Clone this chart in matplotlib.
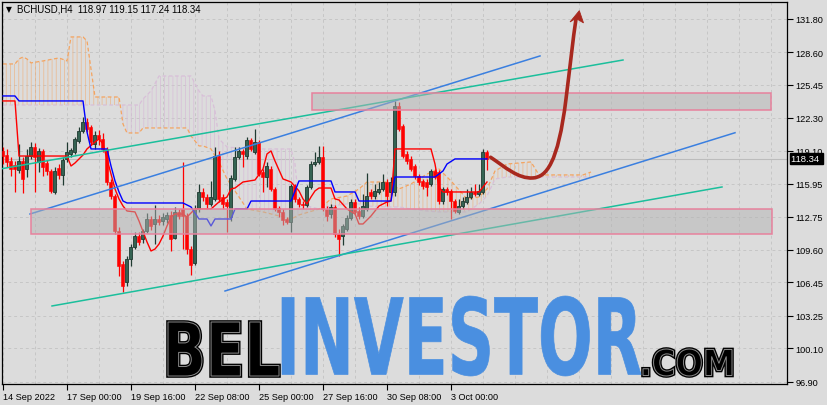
#!/usr/bin/env python
"""BCHUSD H4 chart: candles, Ichimoku lines/cloud, channel lines, zones and forecast arrow."""

import matplotlib

matplotlib.use("Agg")
import matplotlib.pyplot as plt
from matplotlib.font_manager import FontProperties
from matplotlib.patches import PathPatch, Polygon, Rectangle
from matplotlib.path import Path
from matplotlib.textpath import TextPath
from matplotlib.transforms import Affine2D, blended_transform_factory
import numpy as np

W_PX, H_PX, DPI = 828, 406, 100

# H4 candles, bar 0 = first visible bar (14 Sep 2022)
OPEN = [
    119.10, 118.71, 118.13, 117.75, 117.27, 118.13, 117.36, 118.61, 119.48, 118.04,
    119.10, 117.94, 117.17, 115.15, 117.46, 116.79, 118.33, 118.81, 119.00, 120.06,
    121.02, 121.89, 121.40, 119.77, 120.63, 120.25, 119.29, 116.11, 114.76, 111.39,
    108.22, 106.49, 108.70, 109.86, 110.91, 110.63, 111.39, 112.55, 112.07, 112.55,
    112.36, 112.55, 112.94, 110.72, 113.23, 113.51, 112.84, 109.66, 108.31, 113.51,
    115.15, 114.67, 114.00, 114.48, 118.61, 114.67, 114.19, 112.74, 116.40, 118.52,
    119.10, 118.61, 120.15, 119.00, 119.96, 117.07, 116.59, 117.36, 115.44, 113.61,
    113.23, 112.55, 112.26, 115.73, 114.48, 114.00, 113.90, 115.63, 117.84, 118.04,
    118.52, 113.51, 113.03, 113.71, 111.11, 110.91, 111.59, 112.65, 114.19, 113.32,
    112.84, 113.51, 115.15, 114.76, 115.15, 115.44, 116.11, 115.15, 115.15, 123.43,
    121.50, 118.81, 118.33, 117.65, 116.69, 116.21, 116.11, 115.92, 117.17, 117.07,
    114.28, 115.44, 115.25, 114.28, 113.23, 113.80, 114.19, 114.67, 115.15, 114.96,
    115.15, 118.97,
]
HIGH = [
    119.48, 119.29, 118.52, 118.13, 119.77, 118.52, 119.29, 119.96, 119.87, 119.39,
    119.29, 118.23, 117.36, 117.56, 117.84, 118.52, 119.96, 119.39, 120.44, 121.40,
    122.37, 122.27, 121.60, 121.02, 121.12, 120.83, 119.48, 116.40, 114.96, 111.78,
    108.51, 108.99, 110.14, 111.30, 111.30, 111.59, 113.13, 112.84, 113.90, 112.94,
    113.13, 113.23, 113.32, 113.71, 113.51, 118.04, 113.13, 109.95, 113.90, 115.92,
    115.53, 114.96, 116.21, 119.48, 119.10, 114.96, 114.48, 116.79, 119.48, 119.48,
    119.29, 120.44, 120.35, 121.21, 120.15, 117.36, 118.04, 117.65, 115.63, 113.80,
    113.51, 112.74, 115.92, 115.92, 114.67, 114.28, 115.82, 118.13, 119.00, 119.58,
    119.58, 113.80, 114.00, 113.90, 111.59, 112.07, 112.94, 114.48, 114.48, 113.71,
    114.96, 116.98, 115.44, 115.92, 116.11, 116.88, 116.40, 116.59, 123.91, 123.81,
    121.69, 119.10, 118.61, 117.84, 116.88, 116.40, 116.40, 117.36, 117.36, 117.27,
    115.63, 115.63, 115.44, 114.48, 114.48, 114.67, 115.44, 115.63, 115.92, 115.92,
    119.29, 119.15,
]
LOW = [
    117.84, 117.56, 116.69, 115.15, 116.98, 115.05, 116.59, 118.33, 115.15, 117.07,
    116.69, 116.79, 115.05, 114.96, 116.40, 115.82, 118.04, 118.52, 118.81, 119.87,
    120.83, 120.92, 119.67, 119.29, 119.67, 119.00, 115.82, 114.48, 111.11, 107.06,
    105.52, 106.10, 108.03, 109.66, 110.05, 110.24, 111.20, 111.49, 110.14, 111.97,
    111.97, 112.17, 109.47, 110.63, 112.55, 109.66, 109.18, 107.16, 108.12, 113.23,
    114.28, 113.51, 113.80, 114.28, 114.19, 113.51, 111.30, 112.36, 116.21, 118.33,
    117.56, 118.33, 119.10, 118.81, 116.69, 115.15, 115.63, 115.25, 113.32, 112.74,
    111.97, 112.07, 111.30, 114.19, 113.71, 113.51, 113.71, 115.44, 117.65, 117.84,
    113.32, 112.36, 112.65, 110.82, 108.99, 110.05, 111.39, 112.45, 113.03, 112.55,
    112.65, 113.32, 114.48, 114.48, 114.96, 115.25, 113.80, 114.86, 114.76, 121.02,
    118.42, 117.84, 117.17, 116.40, 115.82, 115.44, 114.76, 115.73, 116.40, 114.00,
    114.00, 114.86, 112.55, 113.13, 113.03, 113.51, 114.00, 114.48, 114.76, 114.76,
    114.96, 117.24,
]
CLOSE = [
    118.61, 118.04, 117.36, 117.36, 118.13, 116.40, 118.61, 119.48, 118.52, 119.10,
    117.56, 117.17, 115.25, 117.17, 116.79, 118.23, 119.00, 119.19, 120.25, 121.02,
    121.89, 121.21, 119.96, 120.63, 120.25, 119.29, 116.11, 114.76, 111.39, 108.03,
    106.10, 108.70, 109.86, 110.91, 110.34, 111.39, 112.55, 111.88, 112.55, 112.26,
    112.74, 112.94, 110.63, 113.23, 112.84, 112.84, 109.66, 108.12, 113.51, 115.15,
    114.67, 114.00, 114.67, 118.61, 114.48, 114.00, 113.80, 116.50, 118.52, 119.10,
    118.81, 120.15, 119.29, 119.96, 116.88, 116.59, 117.65, 115.44, 113.51, 113.23,
    112.45, 112.26, 115.73, 114.48, 114.00, 113.90, 115.63, 117.84, 118.04, 118.52,
    113.51, 112.84, 113.71, 111.11, 110.63, 111.88, 112.65, 114.19, 113.23, 112.84,
    113.80, 114.76, 114.76, 115.25, 115.44, 116.11, 114.76, 116.11, 123.43, 121.21,
    118.61, 118.13, 117.36, 116.69, 116.11, 115.73, 115.63, 117.17, 116.59, 114.28,
    115.44, 115.15, 114.28, 113.32, 113.80, 114.28, 114.67, 115.15, 114.96, 115.25,
    119.00, 118.34,
]

# Ichimoku lines, given as vertices (bar index, price)
TENKAN_BAR = [0, 3, 4, 10, 16, 17, 18, 20, 21, 23, 24, 25, 26, 27, 28, 29, 30, 31, 33, 34,
              36, 37, 38, 39, 40, 41, 42, 43, 45, 46, 48, 52, 54, 56, 57, 58, 60, 63, 65, 66,
              67, 68, 70, 72, 74, 75, 76, 77, 78, 79, 82, 83, 84, 86, 88, 89, 90, 92, 94, 96,
              97, 98, 107, 108, 109, 110, 119, 120, 121]
TENKAN = [123.91, 123.91, 118.61, 118.61, 118.61, 117.65, 117.94, 118.71, 119.29, 119.96,
          120.25, 119.77, 118.33, 116.88, 115.44, 114.48, 113.80, 113.32, 113.23, 112.36,
          110.34, 109.47, 109.66, 110.14, 110.91, 111.88, 112.74, 113.03, 113.03, 112.74,
          113.51, 113.51, 114.19, 114.67, 115.44, 115.53, 116.11, 116.30, 117.36, 118.81,
          119.10, 118.13, 116.40, 116.11, 115.25, 114.48, 114.00, 114.67, 115.25, 115.53,
          115.53, 114.48, 114.38, 113.51, 113.03, 112.07, 112.07, 112.84, 113.80, 114.19,
          114.28, 119.29, 119.29, 117.84, 115.63, 115.15, 115.15, 115.63, 116.11]
KIJUN_BAR = [0, 3, 4, 20, 21, 22, 26, 27, 28, 29, 30, 31, 45, 47, 49, 51, 52, 53, 57, 58,
             61, 62, 72, 74, 82, 83, 88, 89, 97, 98, 108, 110, 111, 113, 121]
KIJUN = [124.39, 124.39, 123.91, 123.91, 120.92, 119.29, 119.29, 117.65, 116.21, 115.15,
         114.28, 114.09, 114.09, 113.71, 112.55, 112.55, 111.88, 112.55, 112.55, 113.51,
         113.51, 114.28, 114.28, 116.21, 116.21, 115.15, 115.15, 114.28, 114.28, 116.59,
         116.59, 117.17, 117.84, 118.33, 118.33]
CLOUD_BAR = [0, 3, 4, 5, 6, 7, 10, 14, 16, 17, 20, 21, 22, 23, 29, 30, 31, 34, 35, 37,
             39, 46, 47, 49, 50, 52, 53, 54, 56, 61, 65, 72, 73, 74, 79, 82, 86, 89, 91, 96,
             99, 102, 106, 109, 112, 116, 119, 121, 123, 126, 132, 134, 145, 147]
SPAN_A = [127.47, 127.47, 127.95, 128.14, 127.95, 127.57, 127.76, 128.05, 127.76, 130.07,
          130.07, 129.68, 126.99, 124.29, 124.29, 121.69, 120.83, 120.83, 121.31, 121.31,
          121.31, 121.31, 120.54, 119.58, 119.58, 119.29, 118.61, 118.04, 116.40, 113.51,
          113.23, 112.55, 112.74, 112.94, 113.51, 114.48, 114.76, 115.44, 116.11, 116.11,
          115.44, 115.92, 116.88, 117.36, 116.21, 114.48, 114.67, 115.44, 117.17, 117.84,
          118.04, 116.79, 116.79, 117.07]
SPAN_B = [123.52, 123.52, 123.52, 123.52, 123.52, 123.52, 123.52, 123.52, 123.52, 123.52,
          123.52, 123.52, 123.52, 123.52, 123.52, 123.52, 123.52, 123.52, 124.10, 124.87,
          126.31, 126.31, 126.31, 124.87, 124.39, 124.39, 122.95, 120.25, 119.48, 119.29,
          119.29, 119.29, 117.84, 114.00, 113.51, 113.80, 114.00, 114.00, 113.80, 113.71,
          113.71, 113.51, 113.32, 113.23, 113.23, 113.23, 114.00, 114.76, 116.40, 116.59,
          116.59, 116.59, 116.59, 116.59]

# hand-drawn objects (bar index, price)
CHANNEL_BLUE = [((6.75, 113.03), (134.25, 128.24)), ((55.5, 105.62), (183.0, 120.85))]
CHANNEL_TEAL = [((-0.75, 117.36), (155.0, 127.85)), ((12.25, 104.18), (179.75, 115.63))]
ZONES = [(77.25, 192.0, 123.04, 124.68), (7.0, 192.25, 111.11, 113.47)]
ARROW_PATH = [(121.9, 118.49), (125.5, 117.56), (128.75, 116.40), (132.5, 116.50),
              (135.75, 116.59), (138.75, 117.84), (140.75, 124.10),
              (141.75, 127.18), (142.5, 129.88), (143.25, 131.80)]
ARROW_HEAD = [(144.08, 132.60), (141.75, 131.51), (143.25, 131.85), (145.13, 131.42)]

YTICKS = [131.80, 128.60, 125.45, 122.30, 119.10, 115.95, 112.75, 109.60, 106.45, 103.25, 100.10, 96.90]
XTICK_BARS = [0, 16, 32, 48, 64, 80, 96, 112]
XTICK_LABELS = ["14 Sep 2022", "17 Sep 00:00", "19 Sep 16:00", "22 Sep 08:00",
                "25 Sep 00:00", "27 Sep 16:00", "30 Sep 08:00", "3 Oct 00:00"]
HEADER = "BCHUSD,H4  118.97 119.15 117.24 118.34"
LAST_PRICE = 118.34

BG = "#dcdcdc"
GRID = "#c6c6c6"
BULL = "#356353"
BULL_EDGE = "#1f3a31"
BEAR = "#ff0000"
ORANGE = "#f4a460"
THISTLE = "#d8bfd8"
FONT = "Liberation Sans"


def word(fig, text, box, prop, **kw):
    """Draw a word as a path stretched into a pixel box (left, top, right, bottom)."""
    tp = TextPath((0, 0), text, size=100, prop=prop)
    ext = tp.get_extents()
    x0, y0, x1, y1 = box
    tr = (
        Affine2D()
        .translate(-ext.x0, -ext.y0)
        .scale((x1 - x0) / ext.width, (y1 - y0) / ext.height)
        .translate(x0, H_PX - y1)
        .scale(1 / W_PX, 1 / H_PX)
        + fig.transFigure
    )
    patch = PathPatch(tp, transform=tr, **kw)
    fig.add_artist(patch)
    return patch


def main() -> None:
    plt.rcParams["hatch.linewidth"] = 0.6
    fig = plt.figure(figsize=(W_PX / DPI, H_PX / DPI), dpi=DPI, facecolor=BG)
    ax = fig.add_axes([2.5 / W_PX, 21 / H_PX, 785 / W_PX, 382.5 / H_PX], facecolor=BG)
    ax.set_xlim(-0.125, 196.125)
    ax.set_ylim(96.67, 133.48)

    # grid
    for b in range(0, 193, 8):
        ax.axvline(b, color=GRID, lw=0.7, ls=(0, (3, 3)), zorder=0.5)
    for v in YTICKS:
        ax.axhline(v, color=GRID, lw=0.7, ls=(0, (3, 3)), zorder=0.5)

    # cloud
    a = np.array(SPAN_A)
    b = np.array(SPAN_B)
    ax.fill_between(CLOUD_BAR, a, b, where=a >= b, interpolate=True, facecolor="none",
                    edgecolor=ORANGE, hatch="||||", linewidth=0, alpha=0.55, zorder=1)
    ax.fill_between(CLOUD_BAR, a, b, where=a < b, interpolate=True, facecolor="none",
                    edgecolor=THISTLE, hatch="||||", linewidth=0, alpha=0.9, zorder=1)
    ax.plot(CLOUD_BAR, SPAN_A, color=ORANGE, lw=0.9, ls=(0, (3, 2)), zorder=1.2)
    ax.plot(CLOUD_BAR, SPAN_B, color=THISTLE, lw=0.9, ls=(0, (3, 2)), zorder=1.2)

    # candles
    o, h, l, c = (np.array(s) for s in (OPEN, HIGH, LOW, CLOSE))
    bars = np.arange(len(c))
    up = c >= o
    ax.vlines(bars[up], l[up], h[up], color=BULL_EDGE, lw=0.9, zorder=3)
    ax.vlines(bars[~up], l[~up], h[~up], color=BEAR, lw=0.9, zorder=3)
    ax.bar(bars[up], (c - o)[up], bottom=o[up], width=0.75, color=BULL,
           edgecolor=BULL_EDGE, lw=0.6, zorder=3.1)
    ax.bar(bars[~up], (o - c)[~up], bottom=c[~up], width=0.75, color=BEAR,
           edgecolor=BEAR, lw=0.4, zorder=3.1)

    # tenkan / kijun
    ax.plot(TENKAN_BAR, TENKAN, color="#ff0000", lw=1.0, zorder=4)
    ax.plot(KIJUN_BAR, KIJUN, color="#0000ff", lw=1.0, zorder=4)

    # last price line
    ax.axhline(LAST_PRICE, color="#bcbcbc", lw=0.8, zorder=0.8)

    # channels
    for (x0, y0), (x1, y1) in CHANNEL_BLUE:
        ax.plot([x0, x1], [y0, y1], color="#3a7fe0", lw=1.1, zorder=5)
    for (x0, y0), (x1, y1) in CHANNEL_TEAL:
        ax.plot([x0, x1], [y0, y1], color="#1bbf9c", lw=1.1, zorder=5)

    # zones
    for x0, x1, y0, y1 in ZONES:
        ax.add_patch(Rectangle((x0, y0), x1 - x0, y1 - y0, facecolor=(0.70, 0.70, 0.70, 0.5),
                               edgecolor="#e7819d", lw=1.1, zorder=6))

    # forecast arrow
    codes = [Path.MOVETO] + [Path.CURVE4] * (len(ARROW_PATH) - 1)
    ax.add_patch(PathPatch(Path(ARROW_PATH, codes), facecolor="none", edgecolor="#a8281e",
                           lw=2.6, capstyle="round", zorder=7))
    ax.add_patch(Polygon(ARROW_HEAD, closed=True, facecolor="#a8281e", edgecolor="#a8281e",
                         lw=0.6, zorder=7))

    # axes styling
    for sp in ax.spines.values():
        sp.set_color("black")
        sp.set_linewidth(0.9)
    ax.yaxis.tick_right()
    ax.set_yticks(YTICKS)
    ax.set_yticklabels([f"{v:.2f}" for v in YTICKS])
    ax.set_xticks(XTICK_BARS)
    ax.set_xticklabels(XTICK_LABELS, ha="left")
    ax.tick_params(axis="y", direction="out", length=4, width=0.8, pad=2,
                   labelsize=6.6, labelfontfamily=FONT)
    ax.tick_params(axis="x", direction="out", length=4, width=0.8, pad=2,
                   labelsize=6.6, labelfontfamily=FONT)

    # price tag
    tag_tr = blended_transform_factory(ax.transAxes, ax.transData)
    ax.text(1.004, LAST_PRICE, f"{LAST_PRICE:.2f} ", transform=tag_tr, ha="left", va="center",
            color="white", fontsize=6.8, family=FONT, clip_on=False, zorder=9,
            bbox=dict(boxstyle="square,pad=0.12", facecolor="black", edgecolor="black"))

    # header
    fig.text(6 / W_PX, 1 - 10 / H_PX, "\u25bc", fontsize=5.5, family="DejaVu Sans",
             va="center", ha="left", color="black")
    fig.text(17 / W_PX, 1 - 10 / H_PX, HEADER, fontsize=6.9, family=FONT,
             va="center", ha="left", color="black")

    # watermark
    bold = FontProperties(family="DejaVu Sans", weight="bold")
    for text, box in (("BEL", (168, 323, 279, 377)), (".COM", (643, 350, 732, 377))):
        word(fig, text, box, bold, facecolor="black", edgecolor="black", lw=2.6, zorder=10)
        word(fig, text, box, bold, facecolor="none", edgecolor="#8a8a8a", lw=0.7, zorder=10.1)
    word(fig, "INVESTOR", (282, 297, 641, 377), bold, facecolor="#4a8fe0",
         edgecolor="#4a8fe0", lw=0.5, zorder=10)

    fig.savefig("out.png", dpi=DPI, facecolor=BG)
    plt.close(fig)


if __name__ == "__main__":
    main()
